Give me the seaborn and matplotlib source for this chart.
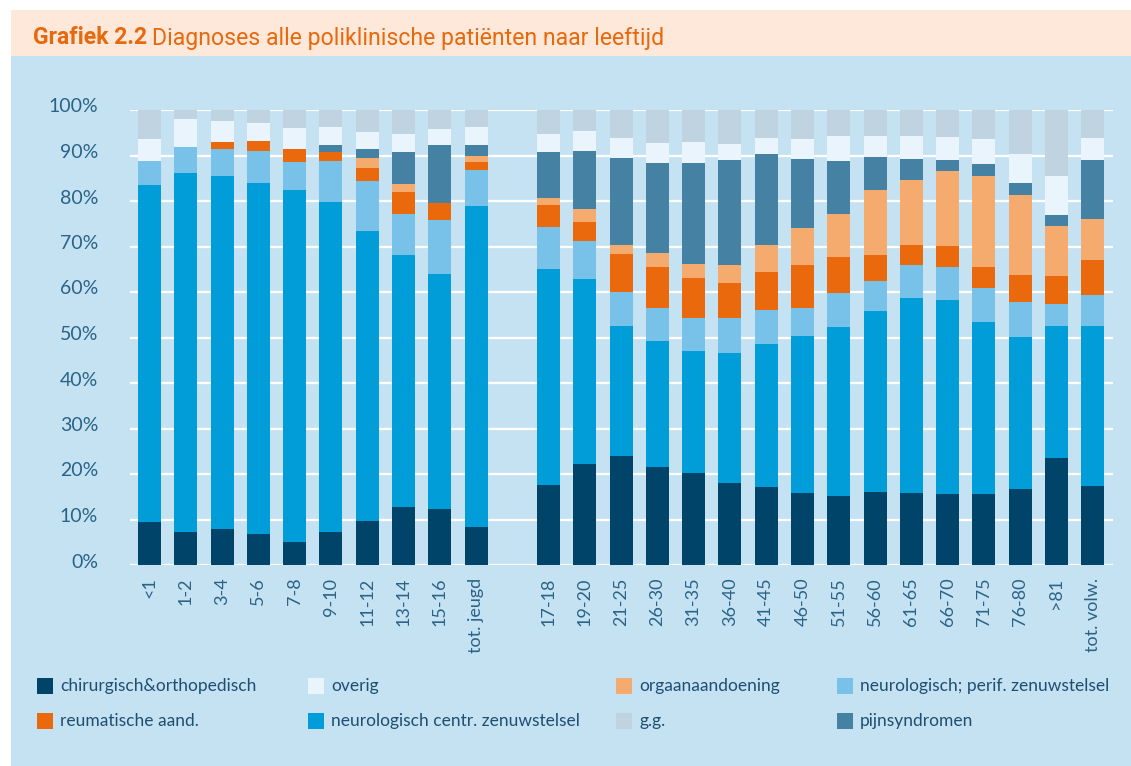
import matplotlib
matplotlib.use("Agg")
import matplotlib.pyplot as plt
import matplotlib.transforms as mtransforms
import seaborn as sns
import pandas as pd
import numpy as np
from matplotlib.patches import Rectangle

categories = ["<1", "1-2", "3-4", "5-6", "7-8", "9-10", "11-12", "13-14", "15-16", "tot. jeugd",
              "17-18", "19-20", "21-25", "26-30", "31-35", "36-40", "41-45", "46-50", "51-55",
              "56-60", "61-65", "66-70", "71-75", "76-80", ">81", "tot. volw."]

chirurgisch = [9.5, 7.3, 7.9, 6.8, 5.1, 7.3, 9.7, 12.7, 12.3, 8.4,
               17.6, 22.2, 24.0, 21.5, 20.2, 18.0, 17.1, 15.8, 15.2, 16.0, 15.8, 15.6, 15.6, 16.7, 23.5, 17.4]
neuro_centr = [74.0, 78.9, 77.6, 77.2, 77.3, 72.5, 63.7, 55.4, 51.7, 70.5,
               47.5, 40.7, 28.5, 27.7, 26.8, 28.6, 31.5, 34.5, 37.1, 39.8, 42.9, 42.6, 37.8, 33.4, 29.0, 35.1]
neuro_perif = [5.3, 5.7, 5.9, 7.0, 6.2, 9.0, 11.0, 9.0, 11.8, 7.9,
               9.2, 8.3, 7.5, 7.3, 7.3, 7.7, 7.4, 6.2, 7.5, 6.6, 7.2, 7.3, 7.5, 7.7, 4.9, 6.8]
reumatisch = [0.0, 0.0, 1.6, 2.2, 2.8, 2.0, 2.9, 4.9, 3.8, 1.8,
              4.8, 4.2, 8.4, 9.0, 8.8, 7.7, 8.4, 9.4, 7.9, 5.7, 4.4, 4.6, 4.6, 5.9, 6.1, 7.7]
orgaan = [0.0, 0.0, 0.0, 0.0, 0.0, 0.0, 2.2, 1.7, 0.0, 1.3,
          1.6, 2.8, 1.9, 3.1, 3.1, 3.9, 5.9, 8.2, 9.4, 14.3, 14.3, 16.5, 20.0, 17.6, 11.0, 9.0]
pijn = [0.0, 0.0, 0.0, 0.0, 0.0, 1.5, 1.9, 7.1, 12.7, 2.4,
        10.1, 12.8, 19.2, 19.8, 22.2, 23.1, 20.0, 15.1, 11.7, 7.3, 4.6, 2.4, 2.6, 2.7, 2.4, 13.0]
overig = [4.8, 6.1, 4.6, 3.9, 4.6, 4.0, 3.8, 3.9, 3.5, 4.0,
          3.9, 4.4, 4.3, 4.3, 4.6, 3.5, 3.5, 4.4, 5.5, 4.6, 5.1, 5.1, 5.5, 6.3, 8.6, 4.8]
gg = [6.4, 2.0, 2.4, 2.9, 4.0, 3.7, 4.8, 5.3, 4.2, 3.7,
      5.3, 4.6, 6.2, 7.3, 7.0, 7.5, 6.2, 6.4, 5.7, 5.7, 5.7, 5.9, 6.4, 9.7, 14.5, 6.2]

series_names = ["chirurgisch&orthopedisch", "neurologisch centr. zenuwstelsel",
                "neurologisch; perif. zenuwstelsel", "reumatische aand.", "orgaanaandoening",
                "pijnsyndromen", "overig", "g.g."]
series_values = [chirurgisch, neuro_centr, neuro_perif, reumatisch, orgaan, pijn, overig, gg]
colors = ["#00446a", "#009dd9", "#78c2e9", "#ea690c", "#f5aa6e", "#4581a2", "#eaf4fc", "#bfd3e1"]

PANEL = "#c5e2f3"
TEXT = "#2b6386"

# order with an empty slot between youth and adults
gap = " "
order = categories[:10] + [gap] + categories[10:]

cum = np.zeros(len(categories))
cums = []
for vals in series_values:
    cum = cum + np.array(vals)
    cums.append(cum.copy())

fig = plt.figure(figsize=(11.31, 7.66), dpi=100)
fig.patch.set_facecolor("white")
W, H = 1131, 766
# panels
fig.patches.append(Rectangle((11 / W, 0), (1131 - 11) / W, 1 - 56 / H, transform=fig.transFigure,
                             facecolor=PANEL, edgecolor="none", zorder=-5))
fig.patches.append(Rectangle((11 / W, 1 - 56 / H), (1131 - 11) / W, 46 / H, transform=fig.transFigure,
                             facecolor="#fde8da", edgecolor="none", zorder=-5))

ax = fig.add_axes([130 / W, 1 - 565 / H, (1113 - 130) / W, (565 - 110) / H])
ax.set_facecolor("none")

for i in range(len(series_values) - 1, -1, -1):
    d = pd.DataFrame({"cat": categories, "val": cums[i]})
    sns.barplot(data=d, x="cat", y="val", order=order, color=colors[i], width=0.634,
                saturation=1, ax=ax, errorbar=None, linewidth=0, zorder=3)

ax.set_xlim(-0.54, len(order) - 1 + 0.56)
ax.set_ylim(0, 100)
ax.set_yticks(np.arange(0, 101, 10))
ax.set_yticklabels([f"{v}%" for v in range(0, 101, 10)])
ax.grid(axis="y", color="white", linewidth=1.6, zorder=1)
ax.set_axisbelow(True)
for s in ax.spines.values():
    s.set_visible(False)
ax.tick_params(axis="both", length=0, colors=TEXT)
ax.tick_params(axis="y", pad=23, labelsize=14)
ax.tick_params(axis="x", pad=9, labelrotation=90, labelsize=13)
shift = mtransforms.ScaledTranslation(0, 4.5 / 100, fig.dpi_scale_trans)
for lab in ax.get_xticklabels() + ax.get_yticklabels():
    lab.set_fontfamily("Lato")
    lab.set_color(TEXT)
for lab in ax.get_yticklabels():
    lab.set_transform(lab.get_transform() + shift)
for lab in ax.get_xticklabels():
    lab.set_va("top")
ax.set_xlabel("")
ax.set_ylabel("")

# title
fig.canvas.draw()
r = fig.canvas.get_renderer()
t1 = fig.text(33 / W, 1 - 38 / H, "Grafiek 2.2", fontsize=16.6, fontweight="bold", color="#e8690c",
              family="Roboto", va="center", ha="left")
bb = t1.get_window_extent(renderer=r)
fig.text((bb.x1 + 5) / W, 1 - 38 / H, "Diagnoses alle poliklinische patiënten naar leeftijd",
         fontsize=16.6, color="#e8690c", family="Roboto", va="center", ha="left")

# legend (manual layout)
leg_items = [
    ("chirurgisch&orthopedisch", 0, 37, 686), ("overig", 6, 308, 686),
    ("orgaanaandoening", 4, 616, 686), ("neurologisch; perif. zenuwstelsel", 2, 837, 686),
    ("reumatische aand.", 3, 37, 721), ("neurologisch centr. zenuwstelsel", 1, 308, 721),
    ("g.g.", 7, 616, 721), ("pijnsyndromen", 5, 837, 721),
]
for name, ci, x, y in leg_items:
    fig.patches.append(Rectangle((x / W, 1 - (y + 8) / H), 16 / W, 16 / H, transform=fig.transFigure,
                                 facecolor=colors[ci], edgecolor="none", zorder=2))
    fig.text((x + 23) / W, 1 - y / H, name, fontsize=12.5, color="#1f4f70", family="Lato",
             va="center", ha="left")

fig.savefig("out.png", dpi=100, facecolor=fig.get_facecolor())
